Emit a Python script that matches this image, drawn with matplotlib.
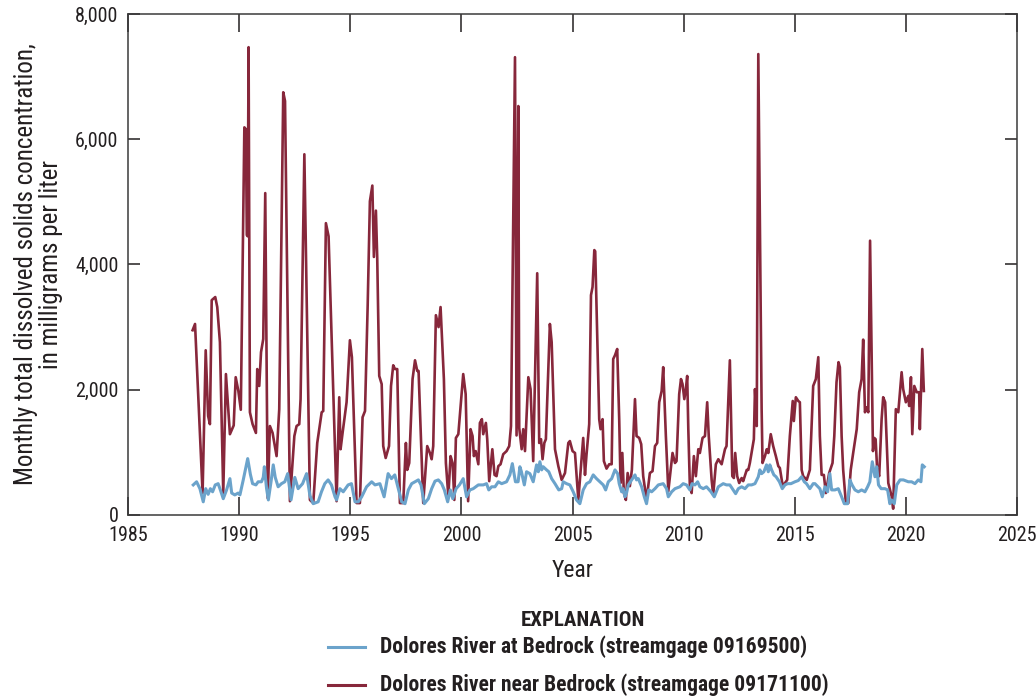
import matplotlib
matplotlib.use("Agg")
import matplotlib.pyplot as plt
from matplotlib.ticker import FuncFormatter
from matplotlib.lines import Line2D

plt.rcParams["font.family"] = ["Liberation Sans Narrow", "Roboto Condensed", "Liberation Sans", "DejaVu Sans"]
plt.rcParams["font.stretch"] = "condensed"

# Dolores River near Bedrock (09171100) - vertices
red_years = [1987.90, 1988.01, 1988.35, 1988.49, 1988.60, 1988.68, 1988.76, 1988.92, 1989.01, 1989.13,
             1989.28, 1989.40, 1989.58, 1989.75, 1989.84, 1989.96, 1990.07, 1990.23, 1990.30, 1990.34,
             1990.38, 1990.42, 1990.48, 1990.60, 1990.75, 1990.81, 1990.90, 1990.98, 1991.08, 1991.17,
             1991.28, 1991.38, 1991.50, 1991.68, 1991.80, 1991.98, 1992.06, 1992.28, 1992.48, 1992.58,
             1992.70, 1992.76, 1992.93, 1993.18, 1993.33, 1993.51, 1993.71, 1993.78, 1993.90, 1994.02,
             1994.38, 1994.50, 1994.56, 1994.65, 1994.83, 1994.98, 1995.07, 1995.28, 1995.43, 1995.55,
             1995.66, 1995.78, 1995.88, 1995.99, 1996.06, 1996.15, 1996.21, 1996.30, 1996.41, 1996.48,
             1996.59, 1996.74, 1996.83, 1996.93, 1997.01, 1997.11, 1997.23, 1997.38, 1997.50, 1997.56,
             1997.65, 1997.80, 1997.91, 1998.01, 1998.07, 1998.28, 1998.46, 1998.58, 1998.66, 1998.73,
             1998.85, 1998.97, 1999.06, 1999.21, 1999.30, 1999.41, 1999.51, 1999.60, 1999.68, 1999.75,
             1999.86, 2000.08, 2000.19, 2000.30, 2000.41, 2000.50, 2000.56, 2000.64, 2000.76, 2000.83,
             2000.92, 2000.98, 2001.10, 2001.16, 2001.25, 2001.39, 2001.49, 2001.58, 2001.66, 2001.76,
             2001.88, 2002.03, 2002.15, 2002.23, 2002.41, 2002.48, 2002.56, 2002.60, 2002.71, 2002.78,
             2002.86, 2003.01, 2003.11, 2003.23, 2003.41, 2003.50, 2003.58, 2003.65, 2003.73, 2003.80,
             2003.98, 2004.06, 2004.21, 2004.36, 2004.51, 2004.66, 2004.81, 2004.88, 2005.00, 2005.11,
             2005.26, 2005.48, 2005.56, 2005.63, 2005.75, 2005.83, 2005.90, 2005.98, 2006.02, 2006.20,
             2006.26, 2006.35, 2006.41, 2006.53, 2006.65, 2006.76, 2006.83, 2006.91, 2007.01, 2007.10,
             2007.16, 2007.24, 2007.31, 2007.40, 2007.48, 2007.58, 2007.67, 2007.81, 2007.88, 2008.00,
             2008.09, 2008.18, 2008.33, 2008.48, 2008.60, 2008.71, 2008.81, 2008.90, 2009.01, 2009.08,
             2009.20, 2009.31, 2009.50, 2009.61, 2009.68, 2009.80, 2009.88, 2009.95, 2010.03, 2010.10,
             2010.16, 2010.21, 2010.28, 2010.36, 2010.46, 2010.55, 2010.66, 2010.73, 2010.85, 2010.96,
             2011.06, 2011.13, 2011.26, 2011.33, 2011.45, 2011.56, 2011.71, 2011.86, 2011.93, 2012.08,
             2012.19, 2012.26, 2012.32, 2012.41, 2012.50, 2012.61, 2012.68, 2012.84, 2012.91, 2012.98,
             2013.11, 2013.16, 2013.21, 2013.29, 2013.36, 2013.51, 2013.55, 2013.66, 2013.74, 2013.81,
             2013.92, 2014.03, 2014.15, 2014.26, 2014.33, 2014.46, 2014.56, 2014.66, 2014.78, 2014.91,
             2014.96, 2015.05, 2015.16, 2015.23, 2015.31, 2015.38, 2015.54, 2015.68, 2015.83, 2015.95,
             2016.06, 2016.13, 2016.21, 2016.31, 2016.40, 2016.55, 2016.70, 2016.78, 2016.88, 2016.97,
             2017.03, 2017.11, 2017.18, 2017.30, 2017.41, 2017.52, 2017.63, 2017.79, 2017.90, 2018.01,
             2018.08, 2018.16, 2018.24, 2018.31, 2018.39, 2018.52, 2018.58, 2018.64, 2018.71, 2018.80,
             2018.91, 2018.98, 2019.07, 2019.21, 2019.36, 2019.43, 2019.55, 2019.66, 2019.81, 2019.88,
             2020.00, 2020.11, 2020.15, 2020.23, 2020.29, 2020.38, 2020.49, 2020.60, 2020.63, 2020.74,
             2020.81]
red_vals = [2950, 3050, 350, 2630, 1580, 1450, 3430, 3480, 3320, 2760,
            350, 2250, 1290, 1430, 2200, 1980, 1680, 6190, 6160, 4470,
            4450, 7470, 1640, 1450, 1310, 2330, 2060, 2600, 2810, 5140,
            270, 1420, 1310, 940, 1690, 6750, 6610, 220, 1260, 1420,
            1450, 1850, 5760, 240, 190, 1150, 1640, 1660, 4660, 4450,
            220, 1880, 1050, 1310, 1800, 2790, 2520, 190, 190, 1560,
            1660, 3350, 5010, 5260, 4120, 4860, 4100, 2220, 2090, 1100,
            910, 1100, 2060, 2390, 2330, 2330, 190, 190, 1150, 720,
            830, 2170, 2470, 2300, 2300, 190, 1100, 990, 890, 1100,
            3190, 3000, 3320, 2170, 830, 300, 940, 830, 240, 1230,
            1290, 2250, 1930, 220, 1370, 1260, 940, 1020, 810, 1470,
            1530, 1290, 1470, 1210, 540, 1050, 640, 620, 780, 810,
            970, 1020, 1100, 1420, 7310, 1270, 6530, 1390, 1050, 1370,
            1020, 2200, 2010, 860, 3860, 1150, 1210, 890, 1150, 1210,
            3050, 2760, 1050, 780, 560, 670, 1150, 1180, 1020, 990,
            240, 1230, 640, 970, 1450, 3510, 3640, 4230, 4210, 1530,
            1370, 1530, 860, 740, 810, 810, 2490, 2550, 2650, 1530,
            510, 990, 350, 240, 670, 460, 720, 1850, 1260, 1230,
            1130, 620, 240, 670, 700, 1100, 1150, 1800, 1980, 2360,
            1260, 380, 990, 830, 860, 1930, 2170, 2090, 1850, 2010,
            2220, 1370, 460, 350, 940, 620, 1050, 990, 1230, 1260,
            1800, 1260, 560, 320, 810, 890, 810, 1050, 1100, 2470,
            620, 590, 990, 620, 510, 590, 540, 720, 720, 830,
            1100, 1210, 2010, 1420, 7360, 1690, 830, 940, 1050, 990,
            1290, 1100, 940, 780, 750, 460, 510, 560, 1260, 1820,
            1500, 1880, 1820, 1800, 720, 620, 560, 720, 2060, 2170,
            2520, 1260, 640, 640, 350, 670, 830, 1260, 2120, 2440,
            2360, 1260, 720, 190, 190, 720, 990, 1370, 1960, 2170,
            2800, 1640, 1720, 1640, 4380, 1020, 1230, 1210, 720, 620,
            1530, 1880, 1800, 510, 300, 100, 1690, 1640, 2280, 2010,
            1800, 1900, 1740, 2200, 1290, 2060, 1960, 1960, 1370, 2650,
            1980]

# Dolores River at Bedrock (09169500)
blue_years = [1987.93, 1988.08, 1988.23, 1988.38, 1988.49, 1988.60, 1988.70, 1988.80, 1988.92, 1989.05,
              1989.15, 1989.28, 1989.43, 1989.58, 1989.66, 1989.80, 1989.95, 1990.03, 1990.18, 1990.38,
              1990.50, 1990.60, 1990.75, 1990.85, 1991.00, 1991.08, 1991.13, 1991.23, 1991.31, 1991.43,
              1991.53, 1991.62, 1991.75, 1991.90, 1992.05, 1992.18, 1992.33, 1992.50, 1992.65, 1992.85,
              1993.03, 1993.18, 1993.33, 1993.55, 1993.70, 1993.85, 1994.00, 1994.15, 1994.31, 1994.38,
              1994.53, 1994.68, 1994.90, 1995.05, 1995.21, 1995.36, 1995.51, 1995.73, 1995.96, 1996.11,
              1996.33, 1996.52, 1996.70, 1996.85, 1997.00, 1997.16, 1997.31, 1997.46, 1997.61, 1997.76,
              1997.91, 1998.06, 1998.18, 1998.33, 1998.51, 1998.66, 1998.81, 1998.96, 1999.11, 1999.23,
              1999.38, 1999.50, 1999.61, 1999.76, 1999.91, 2000.08, 2000.23, 2000.38, 2000.53, 2000.76,
              2000.98, 2001.13, 2001.23, 2001.36, 2001.51, 2001.66, 2001.81, 2002.03, 2002.18, 2002.29,
              2002.43, 2002.55, 2002.63, 2002.70, 2002.83, 2002.93, 2003.08, 2003.23, 2003.38, 2003.46,
              2003.53, 2003.61, 2003.68, 2003.83, 2003.93, 2004.06, 2004.21, 2004.38, 2004.51, 2004.58,
              2004.73, 2004.88, 2005.03, 2005.18, 2005.33, 2005.48, 2005.63, 2005.78, 2005.93, 2006.08,
              2006.23, 2006.38, 2006.49, 2006.61, 2006.76, 2006.91, 2007.03, 2007.10, 2007.21, 2007.28,
              2007.36, 2007.43, 2007.51, 2007.66, 2007.81, 2007.88, 2007.96, 2008.11, 2008.23, 2008.33,
              2008.43, 2008.56, 2008.71, 2008.86, 2009.08, 2009.23, 2009.31, 2009.46, 2009.61, 2009.83,
              2009.98, 2010.13, 2010.28, 2010.38, 2010.51, 2010.63, 2010.73, 2010.88, 2011.03, 2011.23,
              2011.38, 2011.56, 2011.78, 2011.93, 2012.08, 2012.23, 2012.34, 2012.46, 2012.61, 2012.76,
              2012.91, 2013.06, 2013.21, 2013.36, 2013.43, 2013.51, 2013.61, 2013.73, 2013.81, 2013.88,
              2013.96, 2014.06, 2014.16, 2014.31, 2014.44, 2014.56, 2014.68, 2014.83, 2015.01, 2015.16,
              2015.31, 2015.43, 2015.53, 2015.68, 2015.83, 2015.91, 2016.13, 2016.24, 2016.36, 2016.48,
              2016.58, 2016.66, 2016.81, 2016.96, 2017.11, 2017.23, 2017.38, 2017.48, 2017.58, 2017.71,
              2017.86, 2018.01, 2018.16, 2018.28, 2018.38, 2018.49, 2018.61, 2018.69, 2018.77, 2018.89,
              2019.06, 2019.18, 2019.28, 2019.36, 2019.48, 2019.59, 2019.74, 2019.89, 2020.11, 2020.26,
              2020.41, 2020.56, 2020.68, 2020.74, 2020.83]
blue_vals = [480, 530, 420, 210, 420, 330, 420, 370, 480, 500,
             400, 260, 400, 580, 350, 320, 350, 320, 560, 900,
             650, 500, 480, 530, 530, 600, 770, 420, 240, 530,
             800, 600, 450, 500, 530, 660, 240, 600, 420, 500,
             660, 310, 180, 210, 370, 500, 560, 480, 290, 240,
             420, 370, 480, 500, 210, 210, 290, 450, 530, 480,
             500, 290, 660, 580, 640, 420, 210, 180, 400, 500,
             530, 560, 480, 180, 260, 420, 540, 560, 500, 400,
             210, 400, 260, 420, 480, 580, 290, 400, 420, 480,
             480, 500, 400, 450, 450, 530, 500, 530, 640, 820,
             530, 530, 770, 690, 480, 690, 660, 530, 800, 690,
             850, 720, 770, 720, 690, 580, 500, 400, 420, 530,
             500, 480, 370, 240, 180, 400, 500, 530, 640, 580,
             530, 480, 400, 530, 580, 720, 660, 500, 370, 420,
             290, 350, 480, 560, 640, 560, 580, 450, 290, 180,
             400, 370, 420, 480, 500, 420, 290, 370, 420, 450,
             500, 480, 400, 500, 480, 530, 450, 420, 450, 370,
             290, 450, 500, 480, 480, 400, 340, 420, 450, 420,
             480, 480, 500, 610, 720, 660, 690, 800, 690, 800,
             720, 640, 610, 530, 420, 480, 500, 500, 530, 550,
             610, 530, 500, 420, 500, 500, 420, 290, 450, 370,
             660, 400, 400, 420, 290, 180, 180, 560, 480, 400,
             370, 400, 370, 450, 530, 850, 610, 770, 480, 420,
             420, 400, 180, 240, 180, 480, 560, 560, 530, 530,
             500, 560, 530, 800, 770]

legend_title = "EXPLANATION"
legend_labels = ["Dolores River at Bedrock (streamgage 09169500)",
                 "Dolores River near Bedrock (streamgage 09171100)"]

red = "#87273B"
blue = "#6BA3CB"
ink = "#231F20"
W, H = 1036, 696

fig = plt.figure(figsize=(W / 100, H / 100), dpi=100)
ax = fig.add_axes([0.1237, 0.2601, 0.8579, 0.7198])

ax.plot(red_years, red_vals, color=red, lw=1.9, zorder=2)
ax.plot(blue_years, blue_vals, color=blue, lw=2.2, zorder=3)

ax.set_xlim(1985, 2025)
ax.set_ylim(0, 8000)
ax.set_xticks(range(1985, 2026, 5))
ax.set_yticks(range(0, 8001, 2000))
ax.yaxis.set_major_formatter(FuncFormatter(lambda v, p: f"{int(v):,}"))

ax.tick_params(axis="x", direction="in", length=13, width=1.1, top=True, pad=8,
               labelsize=14.5, colors=ink)
ax.tick_params(axis="y", direction="in", length=8.5, width=1.1, right=True, pad=7,
               labelsize=14.5, colors=ink)
for s in ax.spines.values():
    s.set_linewidth(1.1)
    s.set_color("#3a3a3a")

ax.set_xlabel("Year", fontsize=17, color=ink, labelpad=10)
ax.set_ylabel("Monthly total dissolved solids concentration,\nin milligrams per liter",
              fontsize=18, color=ink, labelpad=9, linespacing=1.05)

# explanation block below the axes
fig.text(583 / W, 1 - 620 / H, legend_title, ha="center", va="center",
         fontsize=15, fontweight="bold", color=ink)
for lab, col, yy in zip(legend_labels, [blue, red], [647, 685]):
    fig.add_artist(Line2D([328 / W, 365 / W], [1 - yy / H, 1 - yy / H],
                          transform=fig.transFigure, color=col, lw=2.2))
    fig.text(380 / W, 1 - yy / H, lab, ha="left", va="center",
             fontsize=15.5, fontweight="bold", color=ink)

fig.savefig("out.png", dpi=100)
